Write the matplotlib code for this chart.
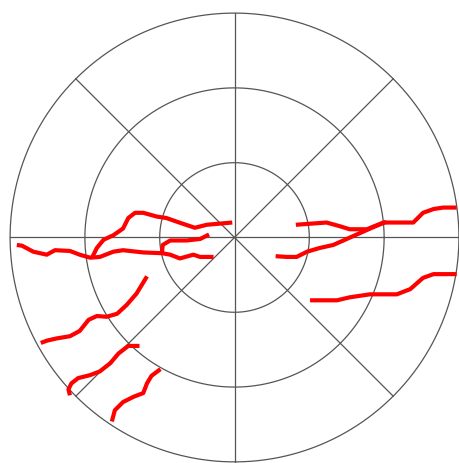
import matplotlib
matplotlib.use("Agg")
import matplotlib.pyplot as plt
import numpy as np

# polar grid: ring radii and spoke angles (degrees)
ring_radii = [1, 2, 3]
spoke_angles = [0, 45, 90, 135, 180, 225, 270, 315]

# red traced strokes, x/y in ring units (center = 0, outer ring = 3)
stroke_a_x = [-0.03, -0.37, -0.53, -0.71, -0.91, -1.04, -1.22, -1.33, -1.42, -1.49, -1.62, -1.75, -1.84, -1.90]
stroke_a_y = [0.20, 0.17, 0.13, 0.19, 0.26, 0.28, 0.33, 0.33, 0.26, 0.12, 0.03, -0.03, -0.14, -0.26]

stroke_b_x = [-2.91, -2.84, -2.69, -2.51, -2.40, -2.20, -2.07, -1.93, -1.80, -1.62, -1.49, -1.22, -0.97, -0.86, -0.73, -0.55, -0.46, -0.28]
stroke_b_y = [-0.10, -0.11, -0.19, -0.23, -0.17, -0.18, -0.23, -0.27, -0.26, -0.19, -0.17, -0.20, -0.21, -0.23, -0.28, -0.23, -0.26, -0.26]

stroke_c_x = [-0.34, -0.46, -0.64, -0.86, -0.96, -0.97]
stroke_c_y = [0.04, -0.02, -0.04, -0.04, -0.10, -0.21]

stroke_d_x = [-1.17, -1.31, -1.44, -1.57, -1.71, -1.84, -1.95, -2.07, -2.20, -2.38, -2.51, -2.59]
stroke_d_y = [-0.52, -0.75, -0.90, -1.02, -1.06, -1.05, -1.10, -1.25, -1.32, -1.35, -1.38, -1.41]

stroke_e_x = [-1.27, -1.42, -1.55, -1.66, -1.80, -1.93, -2.09, -2.18, -2.22, -2.20]
stroke_e_y = [-1.45, -1.45, -1.55, -1.68, -1.79, -1.84, -1.88, -1.95, -2.03, -2.11]

stroke_f_x = [-0.99, -1.11, -1.17, -1.22, -1.35, -1.49, -1.60, -1.64]
stroke_f_y = [-1.76, -1.85, -1.95, -2.08, -2.13, -2.20, -2.31, -2.46]

stroke_g_x = [0.82, 1.23, 1.41, 1.54, 1.77, 1.99, 2.39, 2.52, 2.66, 2.79, 2.97]
stroke_g_y = [0.17, 0.20, 0.15, 0.11, 0.11, 0.20, 0.20, 0.33, 0.38, 0.40, 0.40]

stroke_h_x = [0.55, 0.70, 0.83, 0.97, 1.14, 1.32, 1.50, 1.68, 1.86, 2.03]
stroke_h_y = [-0.25, -0.26, -0.26, -0.19, -0.14, -0.10, -0.02, 0.06, 0.14, 0.21]

stroke_i_x = [1.01, 1.37, 1.54, 1.81, 2.17, 2.35, 2.52, 2.66, 2.97]
stroke_i_y = [-0.84, -0.84, -0.80, -0.76, -0.76, -0.69, -0.54, -0.49, -0.49]

strokes = [
    (stroke_a_x, stroke_a_y), (stroke_b_x, stroke_b_y), (stroke_c_x, stroke_c_y),
    (stroke_d_x, stroke_d_y), (stroke_e_x, stroke_e_y), (stroke_f_x, stroke_f_y),
    (stroke_g_x, stroke_g_y), (stroke_h_x, stroke_h_y), (stroke_i_x, stroke_i_y),
]

fig = plt.figure(figsize=(4.59, 4.63), dpi=100)
ax = fig.add_axes([0, 0, 1, 1])

# grid circles
t = np.linspace(0, 2 * np.pi, 400)
for r in ring_radii:
    ax.plot(r * np.cos(t), r * np.sin(t), color='#555555', lw=0.9)

# spokes
r_max = max(ring_radii)
for a in spoke_angles:
    rad = np.deg2rad(a)
    ax.plot([0, r_max * np.cos(rad)], [0, r_max * np.sin(rad)], color='#555555', lw=0.9)

for xs, ys in strokes:
    ax.plot(xs, ys, color='red', lw=3, solid_capstyle='butt', solid_joinstyle='round')

ax.set_xlim(-3.135, 3.001)
ax.set_ylim(-3.015, 3.175)
ax.axis('off')

fig.savefig('out.png', dpi=100, facecolor='white')
